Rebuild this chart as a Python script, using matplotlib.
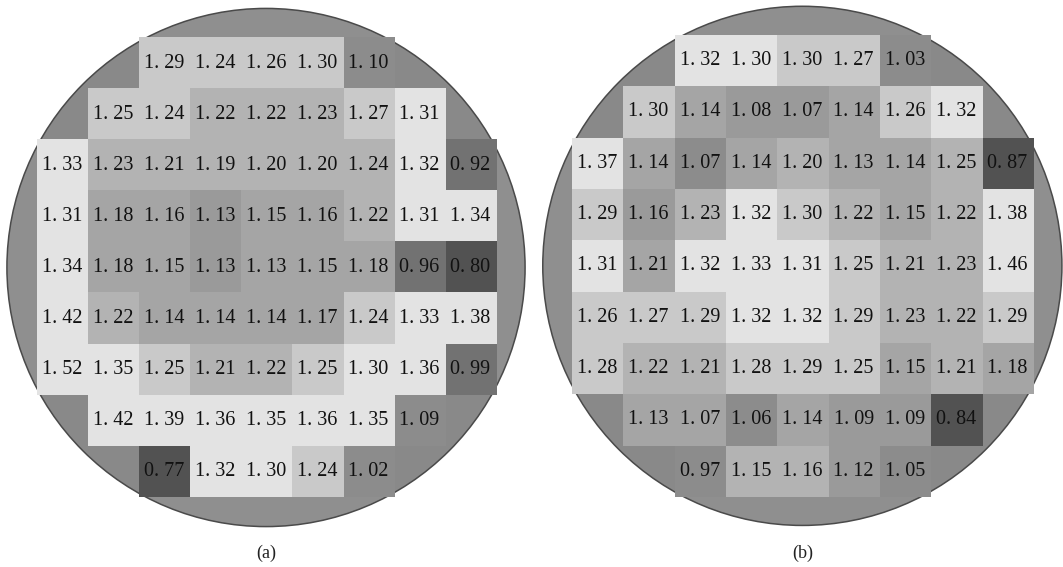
import numpy as np
import matplotlib
matplotlib.use("Agg")
import matplotlib.pyplot as plt
from matplotlib.colors import ListedColormap
from matplotlib.patches import Circle

nan = np.nan

# === DATA ===
# per-die values on the 9x9 wafer grid, NaN = no die
VALS_A = [
    [nan, nan, 1.29, 1.24, 1.26, 1.30, 1.10, nan, nan],
    [nan, 1.25, 1.24, 1.22, 1.22, 1.23, 1.27, 1.31, nan],
    [1.33, 1.23, 1.21, 1.19, 1.20, 1.20, 1.24, 1.32, 0.92],
    [1.31, 1.18, 1.16, 1.13, 1.15, 1.16, 1.22, 1.31, 1.34],
    [1.34, 1.18, 1.15, 1.13, 1.13, 1.15, 1.18, 0.96, 0.80],
    [1.42, 1.22, 1.14, 1.14, 1.14, 1.17, 1.24, 1.33, 1.38],
    [1.52, 1.35, 1.25, 1.21, 1.22, 1.25, 1.30, 1.36, 0.99],
    [nan, 1.42, 1.39, 1.36, 1.35, 1.36, 1.35, 1.09, nan],
    [nan, nan, 0.77, 1.32, 1.30, 1.24, 1.02, nan, nan],
]
VALS_B = [
    [nan, nan, 1.32, 1.30, 1.30, 1.27, 1.03, nan, nan],
    [nan, 1.30, 1.14, 1.08, 1.07, 1.14, 1.26, 1.32, nan],
    [1.37, 1.14, 1.07, 1.14, 1.20, 1.13, 1.14, 1.25, 0.87],
    [1.29, 1.16, 1.23, 1.32, 1.30, 1.22, 1.15, 1.22, 1.38],
    [1.31, 1.21, 1.32, 1.33, 1.31, 1.25, 1.21, 1.23, 1.46],
    [1.26, 1.27, 1.29, 1.32, 1.32, 1.29, 1.23, 1.22, 1.29],
    [1.28, 1.22, 1.21, 1.28, 1.29, 1.25, 1.15, 1.21, 1.18],
    [nan, 1.13, 1.07, 1.06, 1.14, 1.09, 1.09, 0.84, nan],
    [nan, nan, 0.97, 1.15, 1.16, 1.12, 1.05, nan, nan],
]
# shading class of each die (0 = lightest), -1 = no die
SHADE_A = [
    [-1, -1, 1, 1, 1, 1, 5, -1, -1],
    [-1, 1, 1, 2, 2, 2, 1, 0, -1],
    [0, 2, 2, 2, 2, 2, 2, 0, 6],
    [0, 3, 3, 4, 3, 3, 2, 0, 0],
    [0, 3, 3, 4, 3, 3, 3, 6, 7],
    [0, 2, 3, 3, 3, 3, 1, 0, 0],
    [0, 0, 1, 2, 2, 1, 0, 0, 6],
    [-1, 0, 0, 0, 0, 0, 0, 5, -1],
    [-1, -1, 7, 0, 0, 1, 5, -1, -1],
]
SHADE_B = [
    [-1, -1, 0, 0, 1, 1, 5, -1, -1],
    [-1, 1, 3, 4, 4, 3, 1, 0, -1],
    [0, 3, 5, 3, 2, 3, 3, 2, 7],
    [1, 4, 2, 0, 1, 2, 3, 2, 0],
    [0, 3, 0, 0, 0, 1, 2, 2, 0],
    [1, 1, 1, 0, 0, 1, 2, 2, 1],
    [1, 2, 2, 1, 1, 1, 3, 2, 3],
    [-1, 3, 3, 5, 3, 4, 4, 7, -1],
    [-1, -1, 5, 2, 2, 4, 5, -1, -1],
]
LABELS = ['(a)', '(b)']

# === STYLE ===
GRAYS = ['#e3e3e3', '#c9c9c9', '#b3b3b3', '#a5a5a5', '#9a9a9a',
         '#8c8c8c', '#727272', '#525252']
RING = '#8f8f8f'
BLANK = '#898989'
EDGE = '#4a4a4a'
TEXT = '#111111'
FONT = 'Liberation Serif'

W, H, DPI = 1063, 567, 100
# pixel layout per panel: axes span, grid origin, cell size, wafer radius (cells)
LAYOUT = [
    dict(span=(0, 531), x0=36.5, y0=38.0, cs=51.0, r=5.08),
    dict(span=(531, W), x0=571.5, y0=35.0, cs=51.3, r=5.06),
]
LABEL_Y = 553

cmap = ListedColormap(GRAYS)
fig = plt.figure(figsize=(W / DPI, H / DPI), dpi=DPI)

for vals, shade, label, lay in zip([VALS_A, VALS_B], [SHADE_A, SHADE_B], LABELS, LAYOUT):
    vals = np.array(vals)
    shade = np.array(shade)
    n = vals.shape[0]
    xa, xb = lay['span']
    cs = lay['cs']
    ax = fig.add_axes([xa / W, 0, (xb - xa) / W, 1])
    ax.set_xlim((xa - lay['x0']) / cs, (xb - lay['x0']) / cs)
    ax.set_ylim((H - lay['y0']) / cs, -lay['y0'] / cs)
    ax.set_aspect('auto')
    ax.axis('off')

    c = n / 2
    wafer = Circle((c, c), lay['r'], facecolor=RING, edgecolor='none', zorder=1)
    ax.add_patch(wafer)

    # empty grid sites, only visible inside the wafer
    blank = np.ma.masked_where(shade >= 0, np.zeros_like(vals))
    im0 = ax.imshow(blank, cmap=ListedColormap([BLANK]), extent=(0, n, n, 0),
                    interpolation='nearest', aspect='auto', zorder=2)
    im0.set_clip_path(wafer)

    ax.add_patch(Circle((c, c), lay['r'], facecolor='none', edgecolor=EDGE,
                        linewidth=1.1, zorder=3))

    dies = np.ma.masked_where(shade < 0, shade)
    ax.imshow(dies, cmap=cmap, vmin=-0.5, vmax=len(GRAYS) - 0.5,
              extent=(0, n, n, 0), interpolation='nearest', aspect='auto', zorder=4)

    for i in range(n):
        for j in range(n):
            if np.isnan(vals[i, j]):
                continue
            txt = f"{vals[i, j]:.2f}".replace('.', '. ')
            ax.text(j + 0.5, i + 0.5, txt, ha='center', va='center',
                    fontsize=14.5, family=FONT, color=TEXT, zorder=5)

    ax.text(c, (LABEL_Y - lay['y0']) / cs, label, ha='center', va='center',
            fontsize=13, family=FONT, color='#222222')

fig.savefig('out.png', dpi=DPI)
